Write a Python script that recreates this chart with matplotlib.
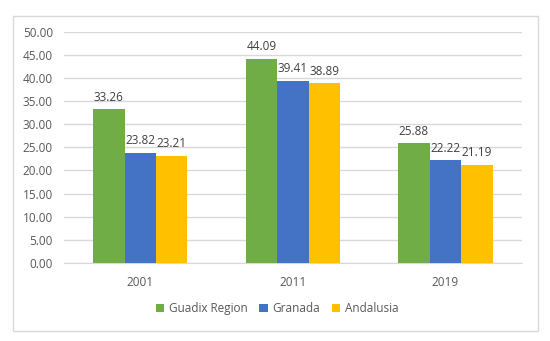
import numpy as np
import matplotlib.pyplot as plt
from matplotlib.patches import Rectangle

years = ['2001', '2011', '2019']
series = ['Guadix Region', 'Granada', 'Andalusia']
guadix = [33.26, 44.09, 25.88]
granada = [23.82, 39.41, 22.22]
andalusia = [23.21, 38.89, 21.19]
colors = ['#70AD47', '#4472C4', '#FFC000']

plt.rcParams['font.family'] = ['Open Sans', 'DejaVu Sans']
txt = '#595959'

fig = plt.figure(figsize=(5.5, 3.41), dpi=100)
fig.patches.append(Rectangle((0.0236, 0.0293), 0.954, 0.924, transform=fig.transFigure,
                             fill=False, edgecolor='#d9d9d9', lw=1.0, zorder=0))
ax = fig.add_axes([0.1164, 0.2287, 0.8321, 0.6783])

x = np.arange(len(years))
w = 0.206
for j, (name, vals) in enumerate(zip(series, [guadix, granada, andalusia])):
    pos = x + (j - 1) * w
    bars = ax.bar(pos, vals, width=w, color=colors[j], label=name, zorder=3)
    for b, v in zip(bars, vals):
        ax.annotate(f'{v:.2f}', (b.get_x() + b.get_width() / 2, v), xytext=(0, 4),
                    textcoords='offset points', ha='center', va='bottom',
                    fontsize=8.5, color='#404040')

ax.set_xlim(-0.5, 2.5)
ax.set_ylim(0, 50)
ax.set_yticks(np.arange(0, 51, 5))
ax.set_yticklabels([f'{v:.2f}' for v in np.arange(0, 51, 5)])
ax.set_xticks(x)
ax.set_xticklabels(years)
ax.tick_params(axis='both', length=0, labelsize=8.5, labelcolor=txt)
ax.tick_params(axis='y', pad=8)
ax.tick_params(axis='x', pad=9)
ax.grid(axis='y', color='#d9d9d9', lw=1.0, zorder=0)
for s in ['top', 'right', 'left']:
    ax.spines[s].set_visible(False)
ax.spines['bottom'].set_color('#d9d9d9')

fig.legend(loc='center', bbox_to_anchor=(0.504, 0.094), ncol=3, frameon=False,
           fontsize=8.5, labelcolor=txt, handlelength=0.7, handleheight=0.7,
           handletextpad=0.4, columnspacing=1.0)

fig.savefig('out.png', dpi=100)
